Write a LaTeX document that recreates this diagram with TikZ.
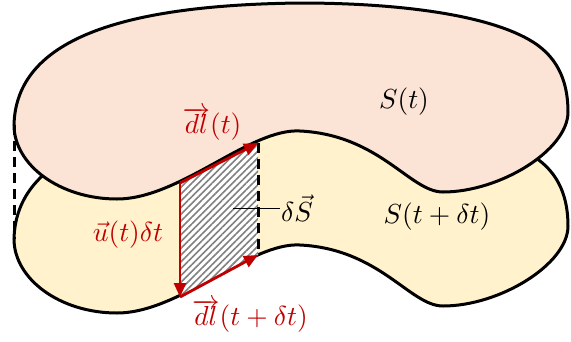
\documentclass[tikz,border=0pt]{standalone}
\usepackage{graphicx}
\usetikzlibrary{arrows.meta,patterns.meta}
\definecolor{pinkfill}{HTML}{FBE3D6}
\definecolor{yellowfill}{HTML}{FFF2CC}
\definecolor{darkred}{HTML}{C00000}
\newcommand\lblmath[1]{\scalebox{2.75}{$#1$}}
\tikzset{
  blob/.pic={
    \path[pic actions] (14,125)
      .. controls (16,40) and (120,5) .. (300,3)
      .. controls (400,3) and (490,15) .. (533,42)
      .. controls (560,59) and (568,85) .. (568,112)
      .. controls (568,150) and (500,192) .. (443,192)
      .. controls (410,192) and (380,135) .. (300,131)
      .. controls (250,128) and (180,199) .. (117,199)
      .. controls (60,199) and (14,165) .. (14,125) -- cycle;
  },
  outline/.style={draw=black, line width=3pt},
  redvec/.style={draw=darkred, line width=2.8pt, -{Triangle[length=14pt,width=12pt]}},
  dashedge/.style={draw=black, line width=3pt, dash pattern=on 10pt off 6pt},
  lbl/.style={inner sep=1pt},
  redlbl/.style={lbl, text=darkred},
}
\begin{document}
\begin{tikzpicture}[x=1pt,y=-1pt]
\useasboundingbox (0,0) rectangle (571,341);
% surfaces
\pic[outline, fill=yellowfill] at (0,114) {blob};
\pic[outline, fill=pinkfill] at (0,0) {blob};
% corners of the swept element
\coordinate (A) at (180,183);
\coordinate (B) at (258,143);
\coordinate (C) at (258,255);
\coordinate (D) at (180,297);
\coordinate (L1) at (14,125);
\coordinate (L2) at (14,239);
% hatched area
\path[fill=white] (A) -- (B) -- (C) -- (D) -- cycle;
\path[pattern={Lines[angle=45,distance=4.8pt,line width=1.6pt]}, pattern color=gray] (A) -- (B) -- (C) -- (D) -- cycle;
% side edges
\draw[dashedge] (B) -- (C);
\draw[dashedge] (L1) -- (L2);
% vectors
\draw[redvec] (A) -- (B);
\draw[redvec] (A) -- (D);
\draw[redvec] (D) -- (C);
% labels
\node[lbl] (St) at (404,102) {\lblmath{S(t)}};
\node[lbl] (Std) at (437,217) {\lblmath{S(t+\delta t)}};
\node[redlbl] (dlt) at (212,124) {\lblmath{\overrightarrow{dl}(t)}};
\node[redlbl] (udt) at (128,235) {\lblmath{\vec{u}(t)\delta t}};
\node[redlbl] (dltd) at (250,316) {\lblmath{\overrightarrow{dl}(t+\delta t)}};
\node[lbl, anchor=west] (dS) at (280,208) {\lblmath{\delta\vec{S}}};
\coordinate (lead) at (233,208);
\draw[black, line width=0.8pt] (lead) -- (dS.west);
\end{tikzpicture}
\end{document}
